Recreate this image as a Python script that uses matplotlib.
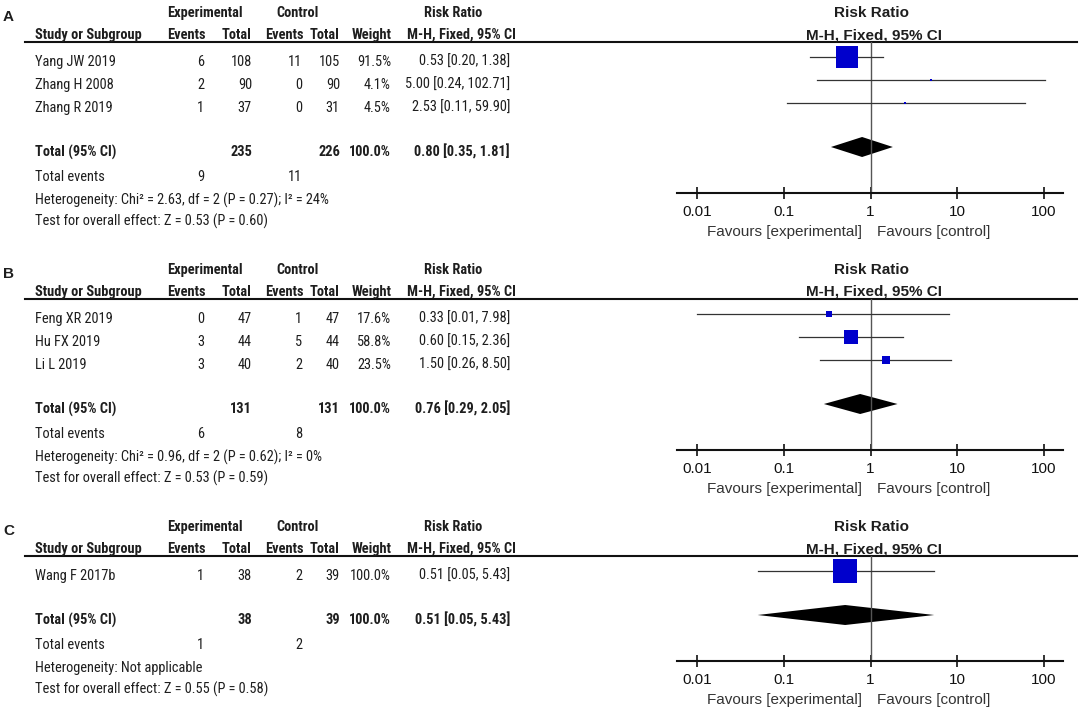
import matplotlib
matplotlib.use("Agg")
import matplotlib.pyplot as plt
from matplotlib import font_manager
import numpy as np

# Panel A data
studies_a = ["Yang JW 2019", "Zhang H 2008", "Zhang R 2019"]
exp_events_a = [6, 2, 1]
exp_total_a = [108, 90, 37]
ctrl_events_a = [11, 0, 0]
ctrl_total_a = [105, 90, 31]
weight_a = [91.5, 4.1, 4.5]
rr_a = [0.53, 5.00, 2.53]
lo_a = [0.20, 0.24, 0.11]
hi_a = [1.38, 102.71, 59.90]
total_a = [235, 226, 9, 11, 0.80, 0.35, 1.81]
het_a = "Heterogeneity: Chi\u00b2 = 2.63, df = 2 (P = 0.27); I\u00b2 = 24%"
test_a = "Test for overall effect: Z = 0.53 (P = 0.60)"

# Panel B data
studies_b = ["Feng XR 2019", "Hu FX 2019", "Li L 2019"]
exp_events_b = [0, 3, 3]
exp_total_b = [47, 44, 40]
ctrl_events_b = [1, 5, 2]
ctrl_total_b = [47, 44, 40]
weight_b = [17.6, 58.8, 23.5]
rr_b = [0.33, 0.60, 1.50]
lo_b = [0.01, 0.15, 0.26]
hi_b = [7.98, 2.36, 8.50]
total_b = [131, 131, 6, 8, 0.76, 0.29, 2.05]
het_b = "Heterogeneity: Chi\u00b2 = 0.96, df = 2 (P = 0.62); I\u00b2 = 0%"
test_b = "Test for overall effect: Z = 0.53 (P = 0.59)"

# Panel C data
studies_c = ["Wang F 2017b"]
exp_events_c = [1]
exp_total_c = [38]
ctrl_events_c = [2]
ctrl_total_c = [39]
weight_c = [100.0]
rr_c = [0.51]
lo_c = [0.05]
hi_c = [5.43]
total_c = [38, 39, 1, 2, 0.51, 0.05, 5.43]
het_c = "Heterogeneity: Not applicable"
test_c = "Test for overall effect: Z = 0.55 (P = 0.58)"

tick_vals = [0.01, 0.1, 1, 10, 100]
tick_labels = ["0.01", "0.1", "1", "10", "100"]

# pick a narrow face for the left table (Arial Narrow look-alike)
installed = set(f.name for f in font_manager.fontManager.ttflist)
narrow = [f for f in ["Liberation Sans Narrow", "Arial Narrow", "Roboto Condensed",
                      "Archivo Narrow", "Asap Condensed"] if f in installed]
NARROW = narrow[:1] + ["Liberation Sans", "DejaVu Sans"]
WIDE = ["Liberation Sans", "DejaVu Sans"]

W, H = 1084, 715
TXT = "#1e1e1e"
BLUE = "#0000CC"
FS = 11
FS_TAB = 10.4

fig = plt.figure(figsize=(W / 100, H / 100), dpi=100)
tab = fig.add_axes([0, 0, 1, 1])
tab.set_xlim(0, W)
tab.set_ylim(H, 0)
tab.axis("off")

# column right edges (px) of the left table
COL_R = [204, 252, 302, 340, 391, 510]
PLOT_L, PLOT_R = 677, 1063
DEC0, DEC1 = 697, 1044  # x of 0.01 and 100
PX_DEC = (DEC1 - DEC0) / 4.0
ROW = 23


def tx(x, y, s, ha="right", bold=False, fam=NARROW, **kw):
    tab.text(x, y, s, ha=ha, va="center", fontsize=FS_TAB, color=TXT,
             family=fam, fontweight="bold" if bold else "normal", **kw)


def panel(top, label, studies, ee, et, ce, ct, wt, rr, lo, hi, tot, het, test):
    n = len(studies)
    h1, h2, sep = top + 13, top + 35, top + 42
    rows = [top + 62 + ROW * i for i in range(n)]
    y_tot = rows[-1] + 44
    y_ev, y_het, y_test = y_tot + 25, y_tot + 48, y_tot + 69
    y_axis = y_tot + 41

    tab.text(3, h1 + 4, label, ha="left", va="center", fontsize=FS,
             fontweight="bold", family=WIDE, color=TXT)
    # headers
    tx(205, h1, "Experimental", ha="center", bold=True)
    tx(298, h1, "Control", ha="center", bold=True)
    tx(453, h1, "Risk Ratio", ha="center", bold=True)
    tx(35, h2, "Study or Subgroup", ha="left", bold=True)
    for x, s in zip([206, 252, 304, 340, 392], ["Events", "Total", "Events", "Total", "Weight"]):
        tx(x, h2, s, bold=True)
    tx(461, h2, "M-H, Fixed, 95% CI", ha="center", bold=True)
    tab.text(872, h1, "Risk Ratio", ha="center", va="center", fontsize=FS,
             fontweight="bold", family=WIDE, color=TXT)
    tab.text(874, h2, "M-H, Fixed, 95% CI", ha="center", va="center", fontsize=FS,
             fontweight="bold", family=WIDE, color=TXT)
    tab.plot([25, 1077], [sep, sep], color="#111111", lw=1.5)

    for i in range(n):
        y = rows[i]
        tx(35, y, studies[i], ha="left")
        vals = [str(ee[i]), str(et[i]), str(ce[i]), str(ct[i]), "%.1f%%" % wt[i],
                "%.2f [%.2f, %.2f]" % (rr[i], lo[i], hi[i])]
        for x, s in zip(COL_R, vals):
            tx(x, y, s)

    tx(35, y_tot, "Total (95% CI)", ha="left", bold=True)
    tx(COL_R[1], y_tot, str(tot[0]), bold=True)
    tx(COL_R[3], y_tot, str(tot[1]), bold=True)
    tx(COL_R[4], y_tot, "100.0%", bold=True)
    tx(COL_R[5], y_tot, "%.2f [%.2f, %.2f]" % (tot[4], tot[5], tot[6]), bold=True)
    tx(35, y_ev, "Total events", ha="left")
    tx(COL_R[0], y_ev, str(tot[2]))
    tx(COL_R[2], y_ev, str(tot[3]))
    tx(35, y_het, het, ha="left")
    tx(35, y_test, test, ha="left")

    # forest axes, y in figure pixels
    ax = fig.add_axes([PLOT_L / W, 1 - y_axis / H, (PLOT_R - PLOT_L) / W, (y_axis - sep) / H])
    ax.set_xscale("log")
    ax.set_xlim(10 ** (-2 - (DEC0 - PLOT_L) / PX_DEC), 10 ** (2 + (PLOT_R - DEC1) / PX_DEC))
    ax.set_ylim(y_axis, sep)
    ax.patch.set_alpha(0)
    for s in ["top", "left", "right"]:
        ax.spines[s].set_visible(False)
    ax.spines["bottom"].set_linewidth(1.5)
    ax.spines["bottom"].set_color("#111111")
    ax.set_yticks([])
    ax.set_xticks(tick_vals)
    ax.set_xticklabels(tick_labels, family=WIDE)
    ax.minorticks_off()
    ax.tick_params(axis="x", which="major", direction="inout", length=9, width=1.2,
                   labelsize=FS, pad=4, colors="#111111")
    ax.axvline(1, color="#555555", lw=1.0)

    for i in range(n):
        y = rows[i] - 5
        ax.plot([lo[i], hi[i]], [y, y], color="#333333", lw=0.9, clip_on=False)
        side = 2 + 0.22 * wt[i]
        ax.plot(rr[i], y, marker="s", ms=side * 0.72, color=BLUE, mec=BLUE,
                mew=0, ls="none", clip_on=False)
    yd = y_tot - 5
    ax.fill([tot[5], tot[4], tot[6], tot[4]], [yd, yd - 10, yd, yd + 10],
            color="black", lw=0, clip_on=False)

    tab.text(862, y_axis + 39, "Favours [experimental]", ha="right", va="center",
             fontsize=FS, family=WIDE, color="#333333")
    tab.text(877, y_axis + 39, "Favours [control]", ha="left", va="center",
             fontsize=FS, family=WIDE, color="#333333")
    return y_test


end = panel(0, "A", studies_a, exp_events_a, exp_total_a, ctrl_events_a, ctrl_total_a,
            weight_a, rr_a, lo_a, hi_a, total_a, het_a, test_a)
end = panel(end + 36, "B", studies_b, exp_events_b, exp_total_b, ctrl_events_b, ctrl_total_b,
            weight_b, rr_b, lo_b, hi_b, total_b, het_b, test_b)
panel(end + 36, "C", studies_c, exp_events_c, exp_total_c, ctrl_events_c, ctrl_total_c,
      weight_c, rr_c, lo_c, hi_c, total_c, het_c, test_c)

fig.savefig("out.png", dpi=100)
